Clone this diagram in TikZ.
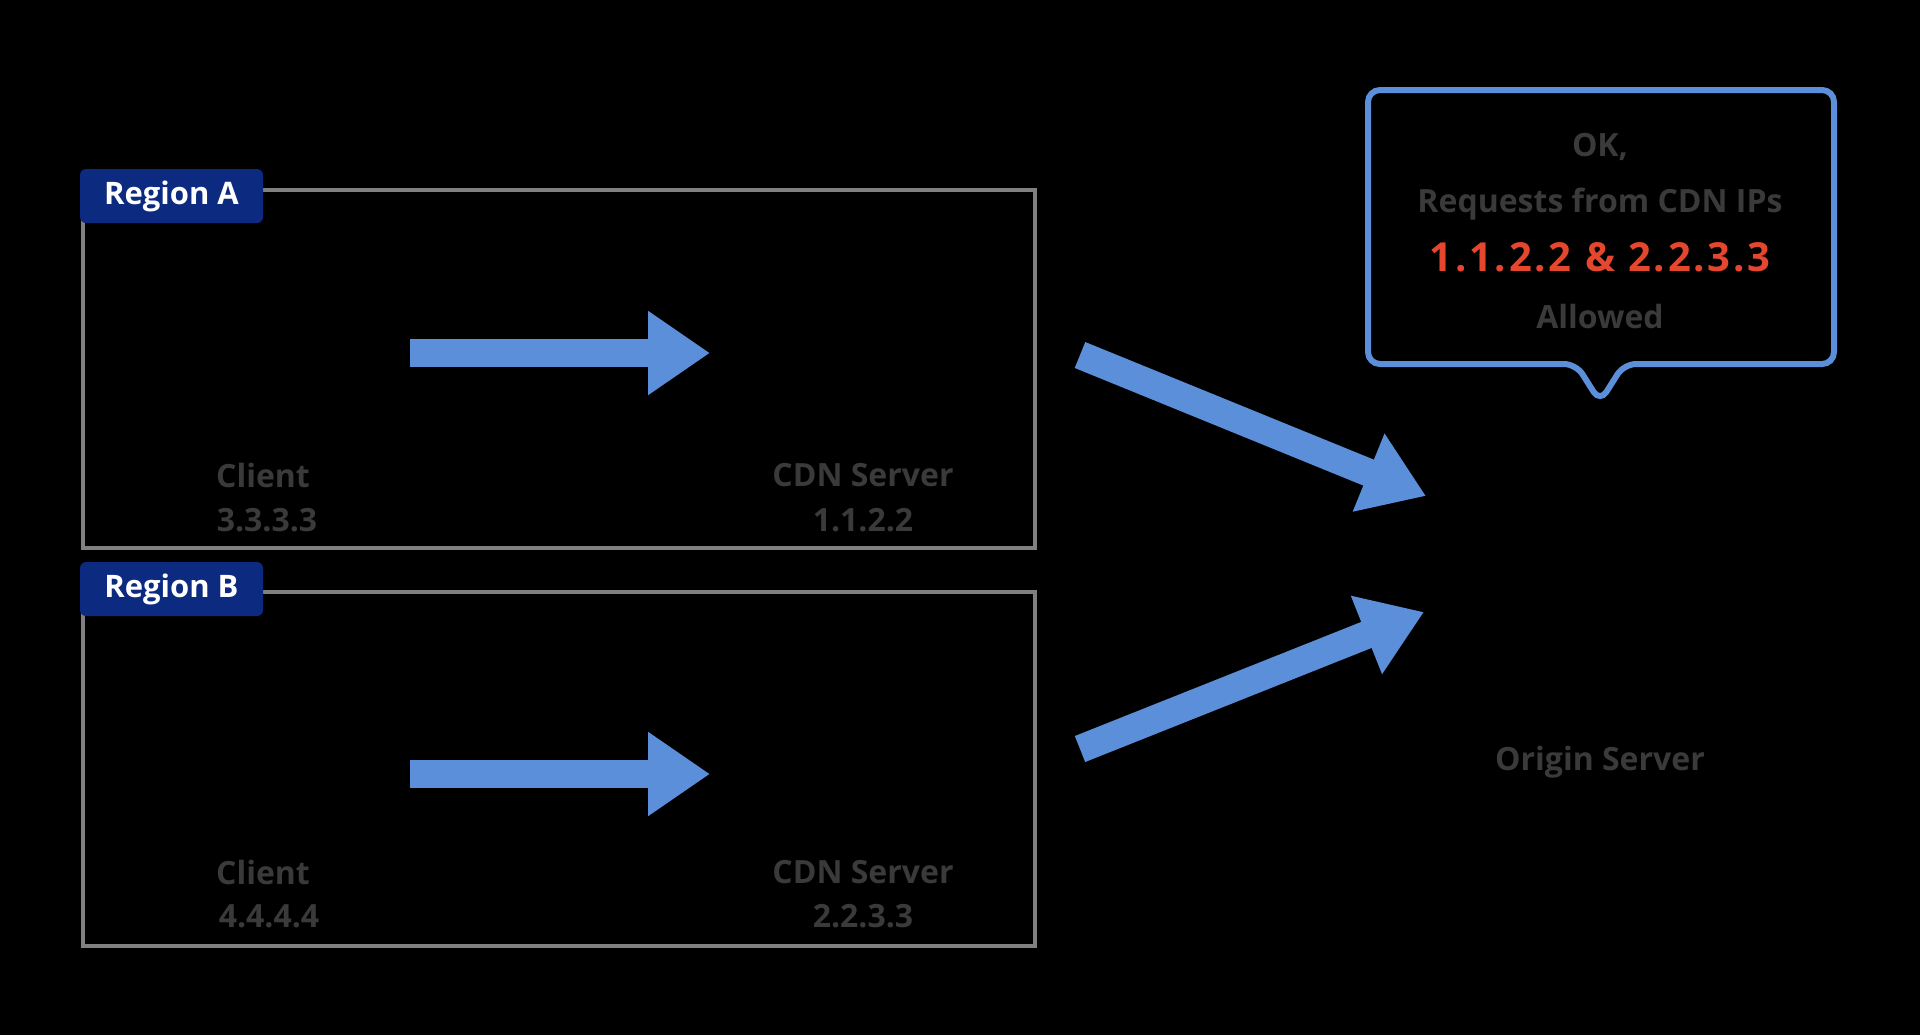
\documentclass[tikz,border=0pt]{standalone}
\usepackage{fontspec}
\setmainfont{Open Sans}
\usetikzlibrary{arrows.meta}
\definecolor{arrowblue}{HTML}{5B8FD9}
\definecolor{tagnavy}{HTML}{0B2A80}
\definecolor{boxgray}{HTML}{808080}
\definecolor{txtgray}{HTML}{3A3A3A}
\definecolor{ipred}{HTML}{E5462E}
\begin{document}
\begin{tikzpicture}[x=0.5pt,y=-0.5pt,
  regionbox/.style={draw=boxgray,line width=2pt},
  regiontag/.style={fill=tagnavy,rounded corners=3pt,text=white,font=\bfseries\fontsize{15.5}{18}\selectfont,minimum width=91.5pt,minimum height=27pt,inner sep=0pt},
  lbl/.style={text=txtgray,font=\bfseries\fontsize{16}{19}\selectfont,inner sep=0pt},
  redlbl/.style={text=ipred,font=\bfseries\fontsize{20}{24}\selectfont\addfontfeatures{LetterSpace=7},inner sep=0pt},
  bigarrow/.style={draw=arrowblue,line width=14pt,-{Triangle[length=31pt,width=40pt]}},
  callout/.style={draw=arrowblue,line width=3pt,rounded corners=6pt,fill=black}
]
\fill[black] (0,0) rectangle (1920,1035);
\useasboundingbox (0,0) rectangle (1920,1035);

% Region boxes
\draw[regionbox] (83,190) rectangle (1035,548);
\draw[regionbox] (83,592) rectangle (1035,946);
\node[regiontag] (tagA) at (171.5,196) {Region A};
\node[regiontag] (tagB) at (171.5,589) {Region B};

% Labels region A
\node[lbl] (clientA) at (263,475) {Client};
\node[lbl] (clientAip) at (267,520) {3.3.3.3};
\node[lbl] (cdnA) at (863,475) {CDN Server};
\node[lbl] (cdnAip) at (863,520) {1.1.2.2};
% Labels region B
\node[lbl] (clientB) at (263,872) {Client};
\node[lbl] (clientBip) at (269,916) {4.4.4.4};
\node[lbl] (cdnB) at (863,872) {CDN Server};
\node[lbl] (cdnBip) at (863,916) {2.2.3.3};
% Origin
\node[lbl] (origin) at (1600,762) {Origin Server};

% Arrow end points
\coordinate (aAs) at (410,353);
\coordinate (aAe) at (710,353);
\coordinate (aBs) at (410,774);
\coordinate (aBe) at (710,774);
\coordinate (dAs) at (1080,355);
\coordinate (dAe) at (1426,496);
\coordinate (dBs) at (1080,749);
\coordinate (dBe) at (1424,612);

\draw[bigarrow] (aAs) -- (aAe);
\draw[bigarrow] (aBs) -- (aBe);
\draw[bigarrow] (dAs) -- (dAe);
\draw[bigarrow] (dBs) -- (dBe);

% Callout
\draw[callout] (1368,90) -- (1834,90) -- (1834,364) -- (1624,364) -- (1600,402) -- (1576,364) -- (1368,364) -- cycle;
\node[lbl] (ok) at (1600,147) {OK,};
\node[lbl] (req) at (1600,204) {Requests from CDN IPs};
\node[redlbl] (ips) at (1600,257) {1.1.2.2 \& 2.2.3.3};
\node[lbl] (allowed) at (1600,316) {Allowed};
\end{tikzpicture}
\end{document}
